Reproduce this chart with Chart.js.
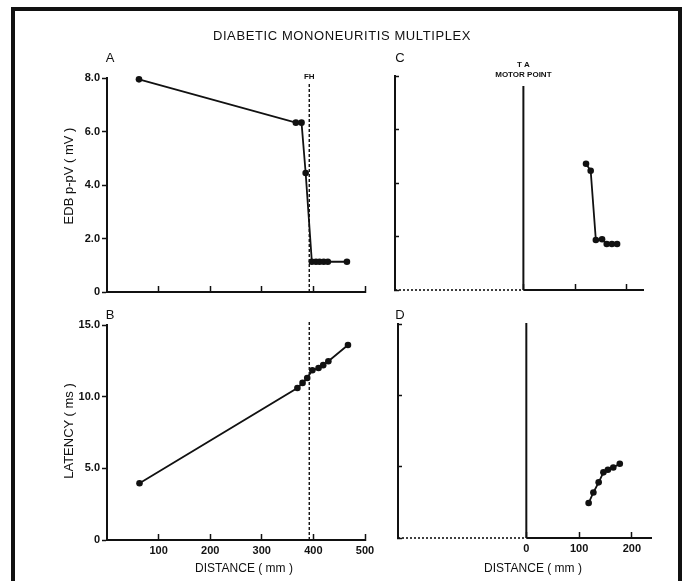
<!DOCTYPE html>
<html><head><meta charset="utf-8">
<script src="https://cdn.jsdelivr.net/npm/chart.js@4.4.1/dist/chart.umd.min.js"></script>
<style>
html,body{margin:0;padding:0;background:#fff;width:687px;height:581px;overflow:hidden;position:relative;font-family:'Liberation Sans',Arial,sans-serif;color:#111}
canvas{position:absolute;left:0;top:0}
.frame{position:absolute;left:11px;top:7px;width:671px;height:620px;border:4px solid #111;border-bottom:none;box-sizing:border-box}
.t{position:absolute;white-space:nowrap;transform:translate(-50%,-50%);line-height:1}
.v{transform:translate(-50%,-50%) rotate(-90deg)}
</style></head><body>
<div class="frame"></div>
<canvas id="cA" width="687" height="581"></canvas>
<canvas id="cB" width="687" height="581"></canvas>
<canvas id="cC" width="687" height="581"></canvas>
<canvas id="cD" width="687" height="581"></canvas>
<div class="t" id="title" style="left:342px;top:35px;font-size:13px;letter-spacing:0.6px"></div>
<div class="t" id="lblA" style="left:110px;top:57px;font-size:13px"></div>
<div class="t" id="lblC" style="left:400px;top:57px;font-size:13px"></div>
<div class="t" id="lblB" style="left:110px;top:314px;font-size:13px"></div>
<div class="t" id="lblD" style="left:400px;top:314px;font-size:13px"></div>
<div class="t v" id="yTitleTop" style="left:68px;top:176px;font-size:13px"></div>
<div class="t v" id="yTitleBot" style="left:68px;top:431px;font-size:13px"></div>
<div class="t" id="xTitleL" style="left:244px;top:568px;font-size:12px"></div>
<div class="t" id="xTitleR" style="left:533px;top:568px;font-size:12px"></div>
<script>
// ---------- text ----------
const TITLE = 'DIABETIC MONONEURITIS MULTIPLEX';
const PANEL_LABELS = ['A', 'B', 'C', 'D'];
const Y_TITLE_AMPLITUDE = 'EDB p-pV ( mV )';
const Y_TITLE_LATENCY = 'LATENCY ( ms )';
const X_TITLE = 'DISTANCE ( mm )';
const FH_LABEL = 'FH';
const TA_LABEL = ['T A', 'MOTOR POINT'];

// ---------- data ----------
// Panel A: amplitude vs distance
const distanceA = [62, 366, 377, 385, 397, 405, 412, 420, 428, 465];
const amplitudeA = [7.95, 6.33, 6.33, 4.45, 1.13, 1.13, 1.13, 1.13, 1.13, 1.13];
// Panel B: latency vs distance
const distanceB = [63, 369, 379, 388, 398, 410, 419, 429, 467];
const latencyB = [3.96, 10.6, 10.96, 11.3, 11.84, 12.0, 12.2, 12.47, 13.6];
// Panel C: amplitude vs distance from TA motor point
const distanceC = [121, 130, 140, 152, 161, 171, 181];
const amplitudeC = [4.72, 4.46, 1.87, 1.9, 1.72, 1.72, 1.72];
// Panel D: latency vs distance from TA motor point
const distanceD = [118, 127, 137, 146, 154.5, 164.7, 177];
const latencyD = [2.45, 3.19, 3.9, 4.6, 4.78, 4.94, 5.2];

// reference positions (mm)
const FH_POSITION = 392;
const TA_POSITION = 0;

// tick values
const ticksLeftX = [100, 200, 300, 400, 500];
const ticksRightX = [0, 100, 200];
const tickLabelsLeftX = ['100', '200', '300', '400', '500'];
const tickLabelsRightX = ['0', '100', '200'];

// ---------- text placement ----------
document.getElementById('title').textContent = TITLE;
document.getElementById('lblA').textContent = PANEL_LABELS[0];
document.getElementById('lblB').textContent = PANEL_LABELS[1];
document.getElementById('lblC').textContent = PANEL_LABELS[2];
document.getElementById('lblD').textContent = PANEL_LABELS[3];
document.getElementById('yTitleTop').textContent = Y_TITLE_AMPLITUDE;
document.getElementById('yTitleBot').textContent = Y_TITLE_LATENCY;
document.getElementById('xTitleL').textContent = X_TITLE;
document.getElementById('xTitleR').textContent = X_TITLE;

const INK = '#111';
const W = 687, H = 581;
const AXIS_W = 40, AXIS_H = 24;

const panelDecor = {
  id: 'panelDecor',
  beforeDatasetsDraw(chart, args, o) {
    const { ctx, chartArea, scales: { x } } = chart;
    ctx.save();
    ctx.strokeStyle = INK; ctx.fillStyle = INK;
    if (o.splitAxis) {
      const x0 = x.getPixelForValue(0);
      ctx.lineWidth = 1.6; ctx.setLineDash([2, 2]);
      ctx.beginPath(); ctx.moveTo(chartArea.left, chartArea.bottom); ctx.lineTo(x0, chartArea.bottom); ctx.stroke();
      ctx.setLineDash([]); ctx.lineWidth = 2;
      ctx.beginPath(); ctx.moveTo(x0, chartArea.bottom); ctx.lineTo(chartArea.right, chartArea.bottom); ctx.stroke();
    }
    if (o.refLine) {
      const r = o.refLine;
      const px = x.getPixelForValue(r.value);
      ctx.lineWidth = r.width; ctx.setLineDash(r.dash || []);
      ctx.beginPath(); ctx.moveTo(px, r.top); ctx.lineTo(px, chartArea.bottom); ctx.stroke();
      ctx.setLineDash([]);
      if (r.labels) {
        ctx.font = 'bold 8px "Liberation Sans", Arial, sans-serif';
        ctx.textAlign = 'center'; ctx.textBaseline = 'middle';
        r.labels.forEach((s, i) => ctx.fillText(s, px, r.labelY + i * 10));
      }
    }
    ctx.restore();
  }
};

function panel(id, p) {
  const pts = p.xs.map((v, i) => ({ x: v, y: p.ys[i] }));
  return new Chart(document.getElementById(id), {
    type: 'scatter',
    data: { datasets: [{
      data: pts, showLine: true, borderColor: INK, borderWidth: 1.8,
      pointRadius: 3.3, pointBackgroundColor: INK, pointBorderWidth: 0, clip: false, tension: 0
    }] },
    plugins: [panelDecor],
    options: {
      responsive: false, animation: false, events: [],
      layout: { padding: { left: p.L - AXIS_W, top: p.T, right: W - p.R, bottom: H - p.B - AXIS_H } },
      plugins: { legend: { display: false }, tooltip: { enabled: false }, panelDecor: p.decor },
      scales: {
        x: {
          type: 'linear', position: 'bottom', min: p.xmin, max: p.xmax,
          afterFit: s => { s.height = AXIS_H; },
          afterBuildTicks: s => { s.ticks = p.xticks.map(v => ({ value: v })); },
          grid: { display: true, drawOnChartArea: false, drawTicks: true, tickLength: -6, tickWidth: 1.5, tickColor: INK },
          border: { display: !p.decor.splitAxis, color: INK, width: 2 },
          ticks: {
            display: !!p.xlabels, padding: 10, color: INK, maxRotation: 0, autoSkip: false,
            font: { family: '"Liberation Sans", Arial, sans-serif', size: 11, weight: 'bold' },
            callback: (v) => { const i = p.xticks.indexOf(v); return p.xlabels && i >= 0 ? p.xlabels[i] : ''; }
          }
        },
        y: {
          type: 'linear', position: 'left', min: 0, max: p.ymax,
          afterFit: s => { s.width = AXIS_W; },
          ticks: {
            stepSize: p.ystep, display: !!p.ylabels, padding: 2, color: INK, autoSkip: false,
            font: { family: '"Liberation Sans", Arial, sans-serif', size: 11, weight: 'bold' },
            callback: v => v === 0 ? '0' : v.toFixed(1)
          },
          grid: { display: true, drawOnChartArea: false, drawTicks: true, tickLength: p.ytick, tickWidth: 1.5, tickColor: INK },
          border: { display: true, color: INK, width: 2 }
        }
      }
    }
  });
}

panel('cA', { xs: distanceA, ys: amplitudeA, L: 107, R: 365, T: 78, B: 292, xmin: 0, xmax: 500, ymax: 8, ystep: 2,
  xticks: ticksLeftX, xlabels: null, ylabels: true, ytick: 5,
  decor: { splitAxis: false, refLine: { value: FH_POSITION, width: 1.4, dash: [3, 2], top: 84, labels: [FH_LABEL], labelY: 77 } } });
panel('cB', { xs: distanceB, ys: latencyB, L: 107, R: 365, T: 325, B: 540, xmin: 0, xmax: 500, ymax: 15, ystep: 5,
  xticks: ticksLeftX, xlabels: tickLabelsLeftX, ylabels: true, ytick: 5,
  decor: { splitAxis: false, refLine: { value: FH_POSITION, width: 1.4, dash: [3, 2], top: 322 } } });
panel('cC', { xs: distanceC, ys: amplitudeC, L: 395, R: 644, T: 76, B: 290, xmin: -248, xmax: 233, ymax: 8, ystep: 2,
  xticks: ticksRightX, xlabels: null, ylabels: false, ytick: -4,
  decor: { splitAxis: true, refLine: { value: TA_POSITION, width: 2, top: 86, labels: TA_LABEL, labelY: 65 } } });
panel('cD', { xs: distanceD, ys: latencyD, L: 398, R: 652, T: 324, B: 538, xmin: -243, xmax: 238, ymax: 15, ystep: 5,
  xticks: ticksRightX, xlabels: tickLabelsRightX, ylabels: false, ytick: -4,
  decor: { splitAxis: true, refLine: { value: TA_POSITION, width: 2, top: 323 } } });
</script>
</body></html>
